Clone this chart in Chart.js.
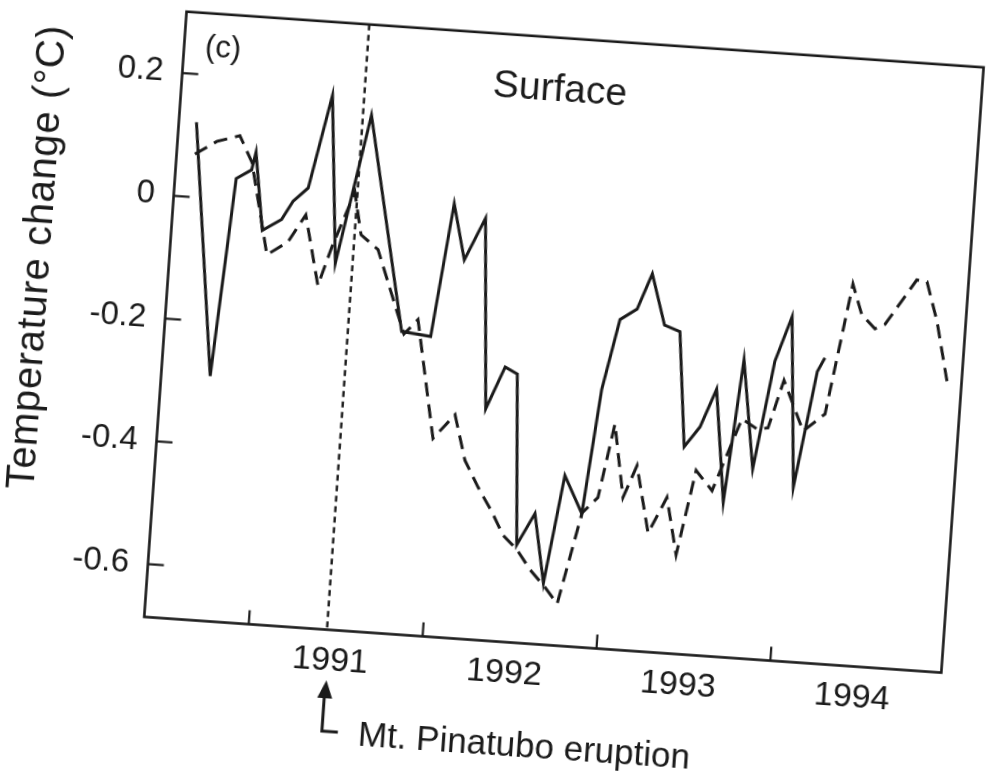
<!DOCTYPE html>
<html><head><meta charset="utf-8">
<script src="https://cdn.jsdelivr.net/npm/chart.js@4.4.1/dist/chart.umd.min.js"></script>
<style>
html,body{margin:0;padding:0;background:#fff;overflow:hidden;width:994px;height:778px;}
#wrap{position:absolute;left:0;top:0;width:994px;height:778px;transform-origin:564px 341px;transform:rotate(4deg);}
canvas{display:block;}
</style></head><body>
<div id="wrap"><canvas id="c" width="994" height="778"></canvas></div>
<script>
// ---- data ----
const solidYears = [1990.50,1990.68,1990.75,1990.835,1990.853,1990.92,1991.026,1991.085,1991.166,1991.268,1991.351,1991.499,1991.758,1991.926,1992.008,1992.088,1992.193,1992.270,1992.365,1992.437,1992.502,1992.594,1992.670,1992.750,1992.862,1992.926,1993.003,1993.097,1993.170,1993.260,1993.351,1993.421,1993.504,1993.584,1993.667,1993.729,1993.822,1993.906,1993.987,1994.062,1994.153,1994.191];
const solidValues = [0.122,-0.288,0.035,0.051,0.080,-0.046,-0.026,0.005,0.028,0.181,-0.091,0.153,-0.194,-0.199,0.019,-0.071,-0.001,-0.310,-0.240,-0.250,-0.527,-0.474,-0.586,-0.409,-0.469,-0.266,-0.150,-0.131,-0.072,-0.154,-0.163,-0.349,-0.315,-0.252,-0.434,-0.201,-0.377,-0.200,-0.126,-0.402,-0.212,-0.189];
const dashYears = [1990.504,1990.624,1990.754,1990.834,1990.956,1991.071,1991.163,1991.260,1991.325,1991.435,1991.487,1991.590,1991.772,1991.847,1991.980,1992.097,1992.172,1992.258,1992.348,1992.420,1992.506,1992.589,1992.682,1992.757,1992.863,1992.948,1993.016,1993.091,1993.159,1993.249,1993.343,1993.418,1993.499,1993.598,1993.741,1993.831,1993.893,1993.966,1994.095,1994.214,1994.322,1994.385,1994.466,1994.521,1994.686,1994.745,1994.818,1994.899];
const dashValues = [0.070,0.093,0.105,0.063,-0.085,-0.062,-0.016,-0.129,-0.065,0.026,-0.042,-0.064,-0.198,-0.173,-0.364,-0.323,-0.396,-0.438,-0.477,-0.513,-0.535,-0.566,-0.593,-0.618,-0.468,-0.441,-0.320,-0.438,-0.385,-0.493,-0.433,-0.525,-0.386,-0.417,-0.297,-0.312,-0.309,-0.230,-0.310,-0.280,-0.066,-0.115,-0.136,-0.128,-0.052,-0.054,-0.117,-0.213];
const yearTicks = [1991, 1992, 1993, 1994];
const yearLabels = ['1991', '1992', '1993', '1994'];
const yTickValues = [0.2, 0, -0.2, -0.4, -0.6];
const eruptionYear = 1991.45;
const panelLabel = '(c)';
const panelTitle = 'Surface';
const yTitle = 'Temperature change (°C)';
const eruptionText = 'Mt. Pinatubo eruption';

const FONT = '"Liberation Sans", Arial, Helvetica, sans-serif';
const INK = '#1b1b1b';

const toXY = (xs, ys) => xs.map((x, i) => ({x, y: ys[i]}));

const framePlugin = {
  id: 'frame',
  afterDatasetsDraw(chart) {
    const {ctx, chartArea: a, scales: {x, y}} = chart;
    ctx.save();
    ctx.strokeStyle = INK;
    ctx.fillStyle = INK;
    // eruption dotted line
    const ex = x.getPixelForValue(eruptionYear);
    ctx.lineWidth = 2.4;
    ctx.setLineDash([6, 4.5]);
    ctx.beginPath(); ctx.moveTo(ex, a.top); ctx.lineTo(ex, a.bottom); ctx.stroke();
    ctx.setLineDash([]);
    // frame
    ctx.lineWidth = 2.6;
    ctx.strokeRect(a.left, a.top, a.right - a.left, a.bottom - a.top);
    // inward ticks
    ctx.lineWidth = 2.2;
    yTickValues.forEach(v => {
      const py = y.getPixelForValue(v);
      ctx.beginPath(); ctx.moveTo(a.left, py); ctx.lineTo(a.left + 16, py); ctx.stroke();
    });
    yearTicks.forEach(v => {
      const px = x.getPixelForValue(v);
      ctx.beginPath(); ctx.moveTo(px, a.bottom); ctx.lineTo(px, a.bottom - 14); ctx.stroke();
    });
    // texts
    ctx.textBaseline = 'middle';
    ctx.textAlign = 'center';
    ctx.font = '31px ' + FONT;
    ctx.fillText(panelLabel, a.left + 39, a.top + 35);
    ctx.font = '39px ' + FONT;
    ctx.fillText(panelTitle, a.left + 378, a.top + 52);
    ctx.save();
    ctx.translate(34, 294);
    ctx.rotate(-Math.PI / 2);
    ctx.font = '40px ' + FONT;
    if ('letterSpacing' in ctx) ctx.letterSpacing = '0.7px';
    ctx.fillText(yTitle, 0, 0);
    ctx.restore();
    // eruption arrow + text
    const ax = ex + 2;
    ctx.lineWidth = 3;
    ctx.beginPath();
    ctx.moveTo(ax, 710); ctx.lineTo(ax, 747); ctx.lineTo(ax + 16, 747);
    ctx.stroke();
    ctx.beginPath();
    ctx.moveTo(ax + 1, 696); ctx.lineTo(ax - 7, 714); ctx.lineTo(ax + 8, 714); ctx.closePath();
    ctx.fill();
    ctx.textAlign = 'left';
    ctx.font = '35px ' + FONT;
    ctx.fillText(eruptionText, 386, 749);
    ctx.restore();
  }
};

new Chart(document.getElementById('c'), {
  type: 'line',
  data: {
    datasets: [
      {label: 'solid', data: toXY(solidYears, solidValues), borderColor: INK, borderWidth: 3, pointRadius: 0, tension: 0, fill: false},
      {label: 'dashed', data: toXY(dashYears, dashValues), borderColor: INK, borderWidth: 3, borderDash: [14, 8], pointRadius: 0, tension: 0, fill: false}
    ]
  },
  options: {
    responsive: false,
    animation: false,
    devicePixelRatio: 1,
    layout: {padding: {left: 0, top: 36.5, right: 30.5, bottom: 0}},
    plugins: {legend: {display: false}, tooltip: {enabled: false}},
    scales: {
      x: {
        type: 'linear', min: 1990.399, max: 1994.983,
        grid: {display: false, drawTicks: false},
        border: {display: false},
        afterBuildTicks: s => { s.ticks = yearTicks.map(v => ({value: v + 0.48})); },
        afterFit: s => { s.height = 132.5; },
        ticks: {
          padding: 11, color: INK, maxRotation: 0, autoSkip: false,
          font: {family: FONT, size: 34},
          callback: (v, i) => yearLabels[i]
        }
      },
      y: {
        type: 'linear', min: -0.686, max: 0.3,
        grid: {display: false, drawTicks: false},
        border: {display: false},
        afterBuildTicks: s => { s.ticks = yTickValues.map(v => ({value: v})); },
        afterFit: s => { s.width = 164.5; },
        ticks: {
          padding: 19, color: INK, autoSkip: false,
          font: {family: FONT, size: 33},
          callback: v => (Math.abs(v) < 1e-9 ? '0' : v.toFixed(1))
        }
      }
    }
  },
  plugins: [framePlugin]
});
</script>
</body></html>
